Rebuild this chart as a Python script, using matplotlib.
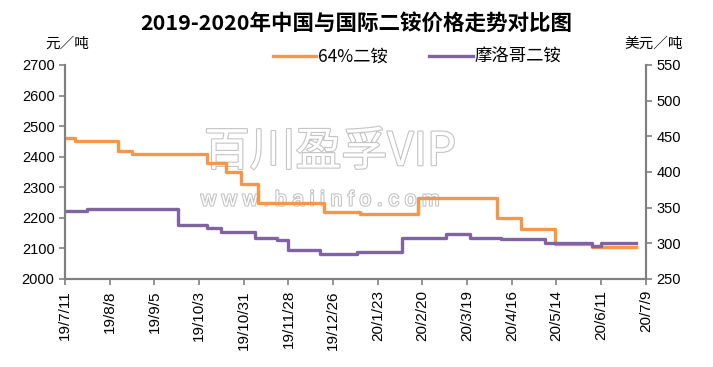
import matplotlib
matplotlib.use("Agg")
import matplotlib.pyplot as plt
import matplotlib.patheffects as pe
import pandas as pd

plt.rcParams["font.family"] = ["Liberation Sans", "Noto Sans CJK SC", "DejaVu Sans"]
CJK = ["Noto Sans CJK SC", "DejaVu Sans"]

# 64%二铵 (元/吨, left axis) - step change dates and values
cn_dates = ["2019-07-11", "2019-07-17", "2019-08-13", "2019-08-22", "2019-10-08",
            "2019-10-20", "2019-10-29", "2019-11-09", "2019-12-20", "2020-01-12",
            "2020-02-17", "2020-04-07", "2020-04-22", "2020-05-13", "2020-06-05",
            "2020-07-03"]
cn_values = [2460, 2450, 2420, 2410, 2380, 2350, 2310, 2250, 2220, 2212,
             2265, 2200, 2165, 2115, 2105, 2105]

# 摩洛哥二铵 (美元/吨, right axis)
ma_dates = ["2019-07-11", "2019-07-25", "2019-09-20", "2019-10-08", "2019-10-17",
            "2019-11-07", "2019-11-21", "2019-11-28", "2019-12-18", "2020-01-10",
            "2020-02-07", "2020-03-06", "2020-03-21", "2020-04-09", "2020-05-07",
            "2020-06-05", "2020-06-11", "2020-07-03"]
ma_values = [346, 348, 326, 321, 316, 307, 305, 291, 285, 288,
             307, 313, 307, 306, 300, 296, 300, 300]

ticks = pd.date_range("2019-07-11", "2020-07-09", freq="28D")
tick_labels = [f"{d.year % 100}/{d.month}/{d.day}" for d in ticks]

ORANGE = "#F79646"
PURPLE = "#8064A2"
GRAY = "#808080"

fig = plt.figure(figsize=(7.13, 3.67), dpi=100)
ax = fig.add_axes([0.0912, 0.2398, 0.8146, 0.5832])
ax2 = ax.twinx()

# watermark, kept behind the axes
outline = [pe.Stroke(linewidth=1.6, foreground="#c4c4c4"), pe.Normal()]
fig.text(0.463, 0.586, "百川盈孚VIP", ha="center", va="center", fontsize=33,
         color="white", family=CJK, path_effects=outline, zorder=-1)
fig.text(0.449, 0.455, "w w w . b a i i n f o . c o m", ha="center", va="center",
         fontsize=15, color="white", path_effects=outline, zorder=-1)
ax.set_facecolor("none")
ax2.set_facecolor("none")

l1, = ax.plot(pd.to_datetime(cn_dates), cn_values, drawstyle="steps-post",
              color=ORANGE, lw=2.4, label="64%二铵")
l2, = ax2.plot(pd.to_datetime(ma_dates), ma_values, drawstyle="steps-post",
               color=PURPLE, lw=2.4, label="摩洛哥二铵")

ax.set_xlim(ticks[0], ticks[-1])
ax.set_ylim(2000, 2700)
ax.set_yticks(range(2000, 2701, 100))
ax2.set_ylim(250, 550)
ax2.set_yticks(range(250, 551, 50))
ax.set_xticks(ticks)
ax.set_xticklabels(tick_labels, rotation=90)

for a in (ax, ax2):
    a.spines["top"].set_visible(False)
    for s in ("left", "right", "bottom"):
        a.spines[s].set_color(GRAY)
        a.spines[s].set_linewidth(1.5)
    a.tick_params(colors=GRAY, labelcolor="black", length=4, width=1.2, labelsize=10.5)
ax.tick_params(axis="x", pad=4, labelsize=11)

fig.text(0.5, 0.938, "2019-2020年中国与国际二铵价格走势对比图", ha="center", va="center",
         fontsize=15.5, fontweight="bold", family=CJK)
fig.text(0.063, 0.882, "元／吨", ha="left", va="center", fontsize=10.5, family=CJK)
fig.text(0.876, 0.882, "美元／吨", ha="left", va="center", fontsize=10.5, family=CJK)

fig.legend(handles=[l1, l2], loc="center", bbox_to_anchor=(0.585, 0.845), ncol=2,
           frameon=False, prop={"family": CJK, "size": 12.5}, handlelength=2.5,
           columnspacing=2.4, handletextpad=0.1)

fig.savefig("out.png", dpi=100)
